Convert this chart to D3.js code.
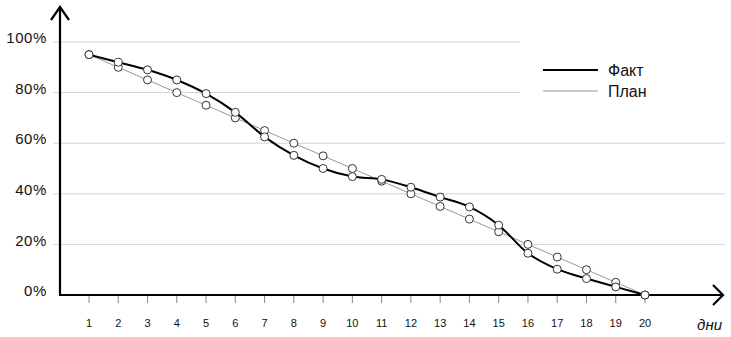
<!DOCTYPE html>
<html>
<head>
<meta charset="utf-8">
<script src="https://cdn.jsdelivr.net/npm/d3@7"></script>
<style>
  body { margin: 0; background: #fff; }
  svg { font-family: "Liberation Sans", Arial, sans-serif; }
</style>
</head>
<body>
<svg width="731" height="337"></svg>
<script>
var days = [1, 2, 3, 4, 5, 6, 7, 8, 9, 10, 11, 12, 13, 14, 15, 16, 17, 18, 19, 20];
var fact = [95, 92, 89, 85, 79.6, 72.2, 62.5, 55.2, 50, 46.8, 45.7, 42.6, 38.7, 34.8, 27.6, 16.5, 10.2, 6.5, 3.2, 0];
var plan = [95, 90, 85, 80, 75, 70, 65, 60, 55, 50, 45, 40, 35, 30, 25, 20, 15, 10, 5, 0];
var yTicks = [0, 20, 40, 60, 80, 100];
var seriesNames = ["Факт", "План"];

var svg = d3.select("svg");
var x0 = 60, y0 = 295;

var x = d3.scaleLinear().domain([1, 20]).range([89, 645]);
var y = d3.scaleLinear().domain([0, 100]).range([y0, 42]);

// grid
svg.selectAll(".grid")
  .data(yTicks.filter(function (d) { return d > 0; }))
  .enter()
  .append("line")
  .attr("x1", 53)
  .attr("x2", function (d) { return d >= 80 ? 520 : 725; })
  .attr("y1", function (d) { return y(d); })
  .attr("y2", function (d) { return y(d); })
  .attr("stroke", "#d4d4d4")
  .attr("stroke-width", 1);

// y labels
svg.selectAll(".ylab")
  .data(yTicks)
  .enter()
  .append("text")
  .attr("x", 47)
  .attr("y", function (d) { return y(d) - 4; })
  .attr("dy", ".35em")
  .attr("text-anchor", "end")
  .style("font-size", "15px")
  .style("letter-spacing", "0.6px")
  .attr("fill", "#111")
  .text(function (d) { return d + "%"; });

// x ticks
svg.selectAll(".xtick")
  .data(days)
  .enter()
  .append("line")
  .attr("x1", function (d) { return x(d); })
  .attr("x2", function (d) { return x(d); })
  .attr("y1", y0)
  .attr("y2", y0 + 8)
  .attr("stroke", "#888")
  .attr("stroke-width", 1);

svg.selectAll(".xlab")
  .data(days)
  .enter()
  .append("text")
  .attr("x", function (d) { return x(d); })
  .attr("y", 323)
  .attr("dy", ".35em")
  .attr("text-anchor", "middle")
  .style("font-size", "11px")
  .attr("fill", "#111")
  .text(function (d) { return d; });

svg.append("text")
  .attr("x", 722)
  .attr("y", 325)
  .attr("dy", ".35em")
  .attr("text-anchor", "end")
  .style("font-size", "15px")
  .style("font-style", "italic")
  .attr("fill", "#111")
  .text("дни");

// axes with arrows
svg.append("path")
  .attr("d", "M" + x0 + "," + y0 + "V7 M51,20 L" + x0 + ",7 L69,20")
  .attr("fill", "none")
  .attr("stroke", "#000")
  .attr("stroke-width", 2.2);
svg.append("path")
  .attr("d", "M" + (x0 - 1) + "," + y0 + "H722 M713,285 L723," + y0 + " L713,305")
  .attr("fill", "none")
  .attr("stroke", "#000")
  .attr("stroke-width", 2.2);

// lines
var planLine = d3.line()
  .x(function (d, i) { return x(days[i]); })
  .y(function (d) { return y(d); });
var factLine = d3.line()
  .curve(d3.curveMonotoneX)
  .x(function (d, i) { return x(days[i]); })
  .y(function (d) { return y(d); });

svg.append("path")
  .datum(plan)
  .attr("d", planLine)
  .attr("fill", "none")
  .attr("stroke", "#999")
  .attr("stroke-width", 1);

svg.append("path")
  .datum(fact)
  .attr("d", factLine)
  .attr("fill", "none")
  .attr("stroke", "#000")
  .attr("stroke-width", 2);

[plan, fact].forEach(function (s) {
  svg.append("g")
    .selectAll("circle")
    .data(s)
    .enter()
    .append("circle")
    .attr("cx", function (d, i) { return x(days[i]); })
    .attr("cy", function (d) { return y(d); })
    .attr("r", 4)
    .attr("fill", "#fff")
    .attr("stroke", "#333")
    .attr("stroke-width", 1);
});

// legend
var legend = svg.append("g").attr("transform", "translate(543,70)");
seriesNames.forEach(function (name, i) {
  legend.append("line")
    .attr("x1", 0).attr("x2", 55)
    .attr("y1", i * 21).attr("y2", i * 21)
    .attr("stroke", i === 0 ? "#000" : "#999")
    .attr("stroke-width", i === 0 ? 2 : 1);
  legend.append("text")
    .attr("x", 65)
    .attr("y", i * 21)
    .attr("dy", ".35em")
    .style("font-size", "16px")
    .attr("fill", "#111")
    .text(name);
});
</script>
</body>
</html>
